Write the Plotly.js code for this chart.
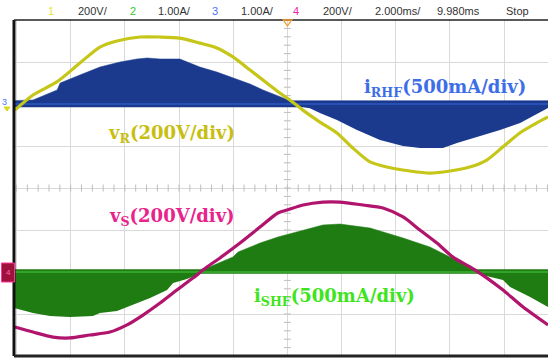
<!DOCTYPE html>
<html><head><meta charset="utf-8">
<script src="https://cdn.plot.ly/plotly-3.0.1.min.js"></script>
<style>html,body{margin:0;padding:0;background:#fff}#c{width:548px;height:360px}</style>
</head><body><div id="c"></div>
<script>
// ---- data (time in ms, volts, amps) ----
const t_vR = [-0.06,0.61,1.49,2.34,3.08,3.71,4.56,5.30,6.03,6.77,7.40,7.99,8.62,9.24,9.72,10.09,10.57,11.20,11.83,12.42,13.05,13.67,14.52,15.26,16.00,16.73,17.36,17.95,18.58,19.21,19.62];
const vR   = [-29,43,105,195,271,300,319,319,314,290,267,224,162,100,52,19,-29,-86,-138,-210,-276,-300,-319,-329,-319,-300,-267,-205,-138,-90,-62];

const t_vS = [-0.06,0.61,1.35,1.97,2.71,3.45,4.08,4.67,5.30,5.92,6.51,7.03,7.51,8.25,8.99,9.65,9.99,10.58,11.31,11.94,12.79,13.53,14.27,14.89,15.52,16.11,16.74,17.37,17.96,18.70,19.62];
const vS   = [-262,-286,-310,-314,-300,-286,-252,-205,-148,-86,-29,24,67,138,214,281,295,319,333,333,319,305,262,200,138,71,24,-29,-86,-167,-252];

const t_iR = [-0.09,0.61,1.50,1.61,2.34,3.08,3.82,4.45,4.82,5.30,6.03,6.77,7.40,7.99,8.62,9.10,9.73,10.10,10.58,10.83,11.20,11.83,12.57,13.42,14.27,14.90,15.74,16.26,17.00,17.85,18.59,19.07,19.62];
const iR   = [0.02,0.048,0.167,0.25,0.345,0.44,0.50,0.536,0.548,0.536,0.536,0.44,0.38,0.31,0.238,0.167,0.083,0.0,-0.01,-0.05,-0.107,-0.19,-0.31,-0.43,-0.50,-0.524,-0.524,-0.464,-0.393,-0.31,-0.226,-0.143,-0.048];

const t_iS = [-0.09,0.61,1.24,1.97,2.82,3.08,3.71,4.30,4.93,5.56,5.78,6.29,6.77,7.03,7.99,8.18,8.99,9.65,10.58,11.31,11.94,13.05,14.27,15.26,16.00,16.74,17.00,17.96,18.22,18.96,19.62];
const iS   = [-0.429,-0.488,-0.524,-0.536,-0.524,-0.488,-0.464,-0.393,-0.31,-0.214,-0.131,-0.083,-0.012,0.048,0.179,0.238,0.345,0.417,0.50,0.56,0.571,0.524,0.405,0.298,0.179,0.06,0.012,-0.095,-0.179,-0.298,-0.417];

const headerText  = ["1","200V/","2","1.00A/","3","1.00A/","4","200V/","2.000ms/","9.980ms","Stop"];
const headerColor = ["#e6e62a","#333","#2ecc2e","#333","#4a72ff","#333","#ee2aa8","#333","#333","#333","#333"];
const headerPx    = [51,93,133,174,215,257,296,338,398,458,517];

// channel settings: [offset (div), scale (unit/div)]
const chR_V = [2, 200], chR_I = [2, 0.5], chS_V = [-2, 200], chS_I = [-2, 0.5];

// ---- helpers ----
const W = 548, H = 360, L = 14, R = 0, T = 20, B = 4;
const px = x => (x - L) / (W - L - R);
const py = y => (H - B - y) / (H - T - B);
const toDiv = (arr, ch) => arr.map(v => ch[0] + v / ch[1]);

function band(t, env, ch, dUp, dDn, fill, base) {
  const lo = env.map(v => Math.min(v, -dDn));
  const hi = env.map(v => Math.max(v, dUp));
  return [
    {x: t, y: toDiv(lo, ch), mode: 'lines', line: {width: 0, color: fill}, hoverinfo: 'skip', showlegend: false},
    {x: t, y: toDiv(hi, ch), mode: 'lines', fill: 'tonexty', fillcolor: fill, line: {width: 0.5, color: fill}, hoverinfo: 'skip', showlegend: false},
    {x: [t[0], t[t.length - 1]], y: [ch[0], ch[0]], mode: 'lines', line: {width: 2, color: base}, hoverinfo: 'skip', showlegend: false}
  ];
}

// minor ticks on centre lines
const tkx = [], tky = [], tvx = [], tvy = [];
for (let k = 0; k <= 50; k++) { tkx.push(k * 0.4); tky.push(0); }
for (let k = -20; k <= 20; k++) { tvx.push(10); tvy.push(k * 0.2); }

const traces = [
  {x: tkx, y: tky, mode: 'markers', marker: {symbol: 'line-ns-open', size: 5, color: '#bdbdbd', line: {width: 1, color: '#bdbdbd'}}, hoverinfo: 'skip', showlegend: false},
  {x: tvx, y: tvy, mode: 'markers', marker: {symbol: 'line-ew-open', size: 5, color: '#bdbdbd', line: {width: 1, color: '#bdbdbd'}}, hoverinfo: 'skip', showlegend: false},
  ...band(t_iR, iR, chR_I, 0.04, 0.04, '#1b3a8e', '#2750b4'),
  ...band(t_iS, iS, chS_I, 0.03, 0.02, '#1f7c13', '#32a428'),
  {x: t_vR, y: toDiv(vR, chR_V), mode: 'lines', line: {width: 3.2, color: '#c6c618', shape: 'spline', smoothing: 0.7}, hoverinfo: 'skip', showlegend: false},
  {x: t_vS, y: toDiv(vS, chS_V), mode: 'lines', line: {width: 3.2, color: '#b0146c', shape: 'spline', smoothing: 0.7}, hoverinfo: 'skip', showlegend: false}
];

const serif = {family: 'DejaVu Serif, Liberation Serif, serif', size: 18};
const ann = (x, y, text, font) => ({xref: 'paper', yref: 'paper', x: px(x), y: py(y), xanchor: 'center', yanchor: 'middle', text, showarrow: false, font});
const annotations = [
  ann(171, 134, '<b>v<sub>R</sub>(200V/div)</b>', Object.assign({}, serif, {color: '#c8be10'})),
  ann(445, 88, '<b>i<sub>RHF</sub>(500mA/div)</b>', Object.assign({}, serif, {color: '#3d6ee8'})),
  ann(172, 217, '<b>v<sub>S</sub>(200V/div)</b>', Object.assign({}, serif, {color: '#e8238c'})),
  ann(334, 297, '<b>i<sub>SHF</sub>(500mA/div)</b>', Object.assign({}, serif, {color: '#3ee41c'})),
  ann(4, 102, '3', {family: 'Liberation Sans', size: 9, color: '#4a72ff'}),
  ann(8, 272, '4', {family: 'Liberation Sans', size: 8, color: '#ff66bb'})
];
headerText.forEach((s, i) => annotations.push(
  ann(headerPx[i], 11, s, {family: 'Liberation Sans, Arial, sans-serif', size: 11, color: headerColor[i]})
));

const tx = px(287.5);
const shapes = [
  {type: 'line', xref: 'paper', yref: 'paper', x0: 0, x1: 0, y0: 0, y1: 1, line: {color: '#111', width: 3}},
  {type: 'line', xref: 'paper', yref: 'paper', x0: 0, x1: 1, y0: 1, y1: 1, line: {color: '#222', width: 1.5}},
  {type: 'line', xref: 'paper', yref: 'paper', x0: 0, x1: 1, y0: 0, y1: 0, line: {color: '#222', width: 3}},
  {type: 'path', xref: 'paper', yref: 'paper', path: `M ${tx - 0.008} ${py(20)} L ${tx + 0.008} ${py(20)} L ${tx} ${py(26)} Z`, line: {color: '#f0a030', width: 1.3}},
  {type: 'rect', xref: 'paper', yref: 'paper', x0: px(1.5), x1: px(14.5), y0: py(282), y1: py(263), fillcolor: '#a0103c', line: {color: '#ff3399', width: 1}},
  {type: 'path', xref: 'paper', yref: 'paper', path: `M ${px(4)} ${py(107)} L ${px(10)} ${py(107)} L ${px(7)} ${py(111)} Z`, fillcolor: '#d8d820', line: {color: '#d8d820', width: 1}}
];

const layout = {
  width: W, height: H, margin: {l: L, r: R, t: T, b: B},
  paper_bgcolor: '#fff', plot_bgcolor: '#fff', showlegend: false,
  xaxis: {range: [-0.092, 19.62], tick0: 0, dtick: 2, showgrid: true, gridcolor: '#d9d9d9', gridwidth: 1, zeroline: false, showticklabels: false, ticks: '', fixedrange: true},
  yaxis: {range: [-4, 4], tick0: 0, dtick: 1, showgrid: true, gridcolor: '#d9d9d9', gridwidth: 1, zeroline: false, showticklabels: false, ticks: '', fixedrange: true},
  annotations, shapes
};
Plotly.newPlot('c', traces, layout, {staticPlot: true, displayModeBar: false});
</script></body></html>
